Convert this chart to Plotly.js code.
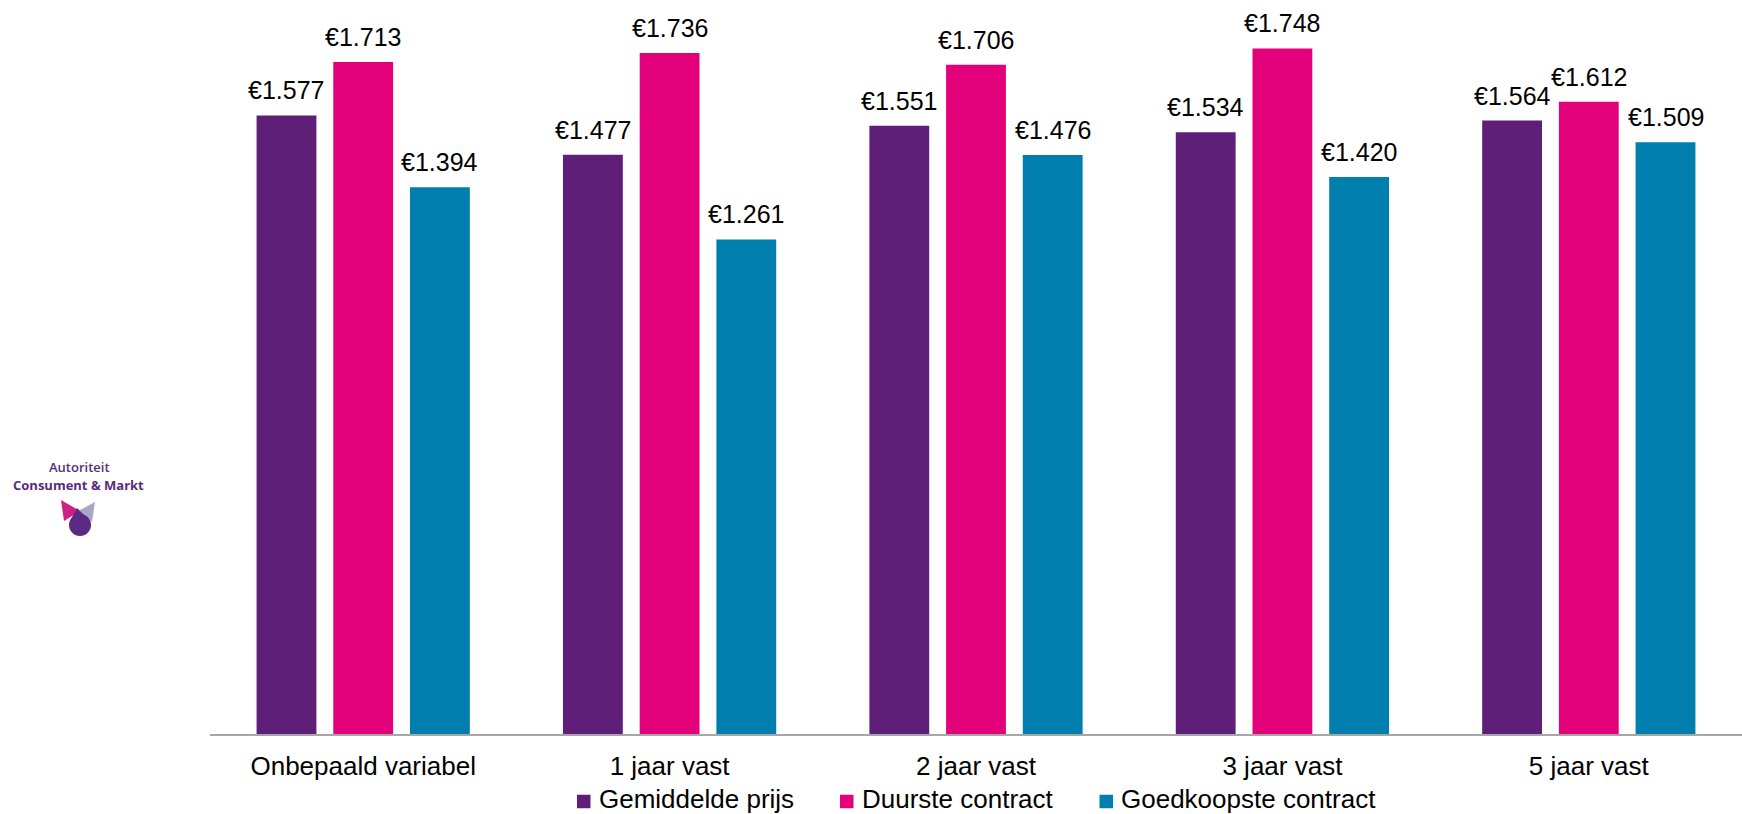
<!DOCTYPE html>
<html>
<head>
<meta charset="utf-8">
<script src="https://cdn.plot.ly/plotly-3.0.1.min.js"></script>
<style>html,body{margin:0;padding:0;background:#fff;}#chart{width:1742px;height:814px;}</style>
</head>
<body>
<div id="chart"></div>
<script>
// ---- data ----
var categories = ["Onbepaald variabel", "1 jaar vast", "2 jaar vast", "3 jaar vast", "5 jaar vast"];
var seriesNames = ["Gemiddelde prijs", "Duurste contract", "Goedkoopste contract"];
var gemiddelde = [1577, 1477, 1551, 1534, 1564];
var duurste = [1713, 1736, 1706, 1748, 1612];
var goedkoopste = [1394, 1261, 1476, 1420, 1509];
var colors = ["#5f1f78", "#e3007b", "#007fae"];

// ---- layout constants ----
var W = 1742, H = 814;
var M = {l: 210, r: 0, t: 28, b: 80, autoexpand: false};
var bargap = 0.249, bargroupgap = 0.22;
var plotW = W - M.l - M.r, plotH = H - M.t - M.b;
var slot = (plotW / categories.length) * (1 - bargap) / 3;
function px(x) { return (x - M.l) / plotW; }
function py(y) { return (H - M.b - y) / plotH; }

var fontFam = "Arial, 'Liberation Sans', sans-serif";

var seriesVals = [gemiddelde, duurste, goedkoopste];
var traces = seriesVals.map(function (vals, i) {
  return {
    type: "bar", name: seriesNames[i], x: categories, y: vals,
    marker: {color: colors[i]}, hoverinfo: "skip", showlegend: false
  };
});

var annotations = [];
var shapes = [];
seriesVals.forEach(function (vals, i) {
  vals.forEach(function (v, j) {
    annotations.push({
      x: categories[j], y: v, xref: "x", yref: "y",
      text: "€" + (v / 1000).toFixed(3),
      showarrow: false, xanchor: "center", yanchor: "bottom",
      xshift: (i - 1) * slot, yshift: 9,
      font: {family: fontFam, size: 25, color: "#000"}
    });
  });
});

// ---- legend (square + label per series) ----
var legendSquareLeft = [577, 840, 1099.5];
var legendSq = 13.5, legendMidY = 801.5;
seriesNames.forEach(function (name, i) {
  var x0 = legendSquareLeft[i];
  shapes.push({
    type: "rect", xref: "paper", yref: "paper",
    x0: px(x0), x1: px(x0 + legendSq),
    y0: py(legendMidY + legendSq / 2), y1: py(legendMidY - legendSq / 2),
    fillcolor: colors[i], line: {width: 0}
  });
  annotations.push({
    x: px(x0 + legendSq + 6), y: py(799), xref: "paper", yref: "paper",
    showarrow: false, xanchor: "left", yanchor: "middle", text: name,
    font: {family: fontFam, size: 26, color: "#000"}
  });
});

// ---- logo (decoration) ----
var logoColor = "#5a2b7e";
annotations.push({
  x: px(79), y: py(467), xref: "paper", yref: "paper", showarrow: false,
  xanchor: "center", yanchor: "middle", text: "Autoriteit",
  font: {family: "'Open Sans', sans-serif", size: 13, color: logoColor, weight: 600}
});
annotations.push({
  x: px(78.5), y: py(485), xref: "paper", yref: "paper", showarrow: false,
  xanchor: "center", yanchor: "middle", text: "Consument &amp; Markt",
  font: {family: "'Open Sans', sans-serif", size: 13, color: logoColor, weight: 700}
});
function path(pts) {
  return "M" + pts.map(function (p) { return px(p[0]) + "," + py(p[1]); }).join("L") + "Z";
}
shapes.push(
  {type: "path", xref: "paper", yref: "paper", path: path([[61, 500], [80, 511], [64, 521]]),
   fillcolor: "#cf1f82", line: {width: 0}},
  {type: "path", xref: "paper", yref: "paper", path: path([[95, 502], [78, 511], [92, 522]]),
   fillcolor: "#aaa6c8", line: {width: 0}},
  {type: "path", xref: "paper", yref: "paper", path: path([[70, 521], [77, 508], [90, 521]]),
   fillcolor: "#5c2a82", line: {width: 0}},
  {type: "circle", xref: "paper", yref: "paper", x0: px(69), x1: px(91), y0: py(536), y1: py(514),
   fillcolor: "#5c2a82", line: {width: 0}}
);

var layout = {
  width: W, height: H,
  margin: M,
  paper_bgcolor: "#fff", plot_bgcolor: "#fff",
  barmode: "group", bargap: bargap, bargroupgap: bargroupgap,
  showlegend: false,
  xaxis: {
    type: "category", showline: true, linecolor: "#a6a6a6", linewidth: 2,
    ticks: "", showgrid: false, zeroline: false, ticklabelstandoff: 8,
    tickfont: {family: fontFam, size: 26, color: "#000"},
    fixedrange: true
  },
  yaxis: {range: [0, 1800], visible: false, showgrid: false, zeroline: false, fixedrange: true},
  annotations: annotations,
  shapes: shapes,
  font: {family: fontFam}
};

Plotly.newPlot("chart", traces, layout, {displayModeBar: false, staticPlot: true});
</script>
</body>
</html>
